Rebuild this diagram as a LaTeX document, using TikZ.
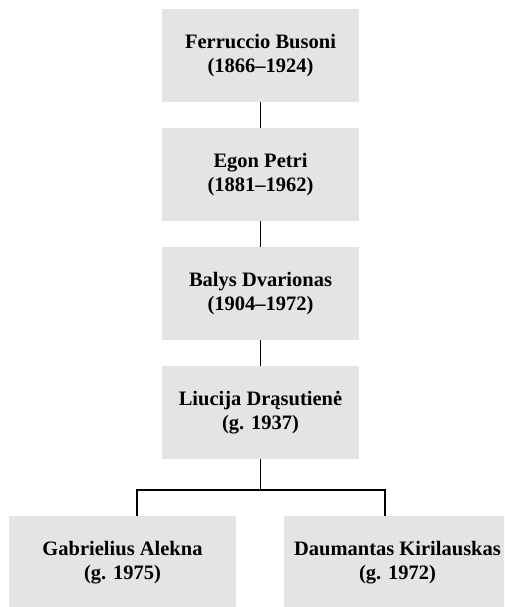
\documentclass[tikz,border=0pt]{standalone}
\usepackage{fontspec}
\setmainfont{Liberation Serif}
\definecolor{boxgrey}{RGB}{227,228,230}
\tikzset{
  x=1pt, y=-1pt,
  person/.style={fill=boxgrey, draw=none, rectangle, inner sep=0pt,
    minimum width=197pt, minimum height=93pt, align=center,
    font=\bfseries\fontsize{20.5}{23.5}\selectfont},
  wide/.style={person, minimum width=227pt},
  link/.style={draw=black, line width=1.3pt}
}
\begin{document}
\begin{tikzpicture}
  \useasboundingbox (0,0) rectangle (504,607);
  \clip (0,0) rectangle (504,607);

  % main line of teachers
  \node[person] (busoni) at (260.5,55.5)  {Ferruccio Busoni\\(1866–1924)};
  \node[person] (petri)  at (260.5,174.5) {Egon Petri\\(1881–1962)};
  \node[person] (dvar)   at (260.5,293.5) {Balys Dvarionas\\(1904–1972)};
  \node[person] (dras)   at (260.5,412.5) {Liucija Drąsutienė\\(g. 1937)};

  % students
  \node[wide] (alekna) at (122.5,562.5) {Gabrielius Alekna\\(g. 1975)};
  \node[wide] (kiril)  at (397.5,562.5) {Daumantas Kirilauskas\\(g. 1972)};

  \draw[link] (busoni) -- (petri);
  \draw[link] (petri) -- (dvar);
  \draw[link] (dvar) -- (dras);

  % branching connector
  \coordinate (jl) at (137,490);
  \coordinate (jr) at (385,490);
  \draw[link] (dras.south) -- (dras.south |- jl);
  \draw[link] (jl |- alekna.north) -- (jl) -- (jr) -- (jr |- kiril.north);
\end{tikzpicture}
\end{document}
